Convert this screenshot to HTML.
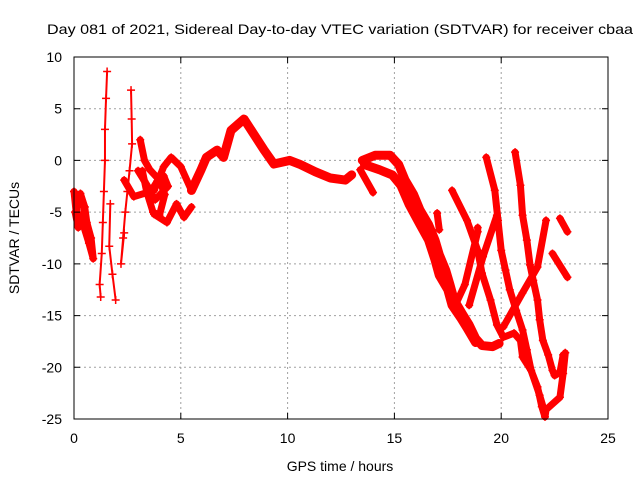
<!DOCTYPE html>
<html><head><meta charset="utf-8"><style>
body{margin:0;background:#fff}
svg{display:block;font-family:"Liberation Sans",sans-serif}
</style></head><body>
<svg id="chart" width="640" height="480" viewBox="0 0 640 480" xmlns="http://www.w3.org/2000/svg">
<rect width="640" height="480" fill="#fff"/>
<g id="grid"></g>
<g id="marks"></g>
<g id="axes"></g>
<text x="340" y="34" font-size="14" text-anchor="middle" textLength="586" lengthAdjust="spacingAndGlyphs">Day 081 of 2021, Sidereal Day-to-day VTEC variation (SDTVAR) for receiver cbaa</text>
<text x="340" y="471" font-size="14" text-anchor="middle">GPS time / hours</text>
<text transform="translate(19,238) rotate(-90)" font-size="14" text-anchor="middle">SDTVAR / TECUs</text>
</svg>
<script>
const xTicks=[0,5,10,15,20,25];
const yTicks=[10,5,0,-5,-10,-15,-20,-25];
const seriesNames=["left-blob","spike-1","spike-1b","spike-2","cluster","early-arc","lower-branch","main-arc","hook","band-1","band-2","trace-a","trace-b","trace-c","trace-d","trace-e","trace-f","trace-g","piece-1","piece-2","cluster-2","left-blob-2"];
const seriesX=[
[0,0.1,0.3,0.5,0.6,0.8,0.9,0.7,0.4,0.2,0.05],
[1.55,1.5,1.45,1.45,1.4,1.35,1.3,1.2,1.25],
[1.7,1.65,1.8,1.95],
[2.67,2.7,2.72,2.6,2.5,2.4,2.3,2.2,2.35],
[3.1,3.3,3.55,4.0,4.25,4.0,3.7,3.4,3.2],
[2.35,2.8,3.75,4.2,4.55,5.0,5.5],
[3.75,4.35,4.8,5.15,5.5],
[5.5,5.95,6.2,6.7,7.0,7.35,7.96,8.4,8.9,9.36,10.1,10.6,11.3,12.0,12.7,13.0],
[13.4,14.0],
[13.5,14.1,14.8,15.2,15.5,15.9,16.2,16.6,16.9,17.1,17.4,17.6,17.8,18.2,18.5,18.8,19.1,19.6,19.9],
[13.6,14.3,14.9,15.3,15.7,16.2,16.6,16.9,17.1,17.5,17.7,18.1,18.4,18.8],
[17.7,18.4,18.9,19.1,19.5,19.8,20.1,20.6,20.9,21.0,21.4,21.7,21.9,22.05,22.1,22.75,22.9,23.0],
[19.3,19.7,19.85,20.0,20.2,20.4,20.7,21.0,21.2,21.4,21.8,22.0],
[20.65,20.9,21.0,21.2,21.35,21.5,21.7,21.8,21.95,22.2,22.4,22.5,22.75,22.9],
[17.85,18.3,18.9,18.9],
[18.5,19.15,19.8],
[20.1,21.0,21.7,22.1],
[17.0,17.1],
[22.75,23.1],
[22.4,23.1],
[3.0,3.3,3.6,3.9,4.2,4.4,3.8,3.4],
[0.1,0.3,0.5,0.4,0.2]
];
const seriesY=[
[-3,-5,-3.5,-4.5,-6,-7.5,-9.5,-8,-6,-6.5,-5],
[8.6,6,3,0,-3,-6,-9,-12,-13.2],
[-4.2,-8.3,-11,-13.5],
[6.8,4,1.6,-1,-3,-5,-7.5,-10,-7],
[2,0,-0.9,-1.9,-3.3,-5.3,-5,-3,-1],
[-1.9,-3.5,-2.9,-0.6,0.3,-0.6,-2.9],
[-5.2,-6,-4.2,-5.5,-4.5],
[-2.9,-0.9,0.3,1,0.3,2.9,4.0,2.6,1,-0.35,0,-0.4,-1.1,-1.7,-1.9,-1.4],
[-0.9,-3.1],
[0,0.5,0.5,-0.4,-1.9,-3.3,-4.8,-6.2,-7.7,-9.1,-10.6,-12,-13.5,-14.9,-15.9,-17.2,-17.9,-18,-17.7],
[-0.4,-0.9,-1.4,-2.4,-4.3,-6.2,-7.7,-9.6,-11.1,-12.5,-14,-15.2,-16.2,-17.6],
[-2.9,-5.8,-8.7,-10.9,-13.5,-15.9,-17.1,-16.7,-17.4,-19,-20.3,-21.9,-23.8,-24.8,-24.1,-22.9,-20.6,-18.6],
[0.3,-2.9,-5.8,-8.7,-10.6,-12.5,-14.5,-16.4,-18.3,-20.3,-22.7,-24.1],
[0.8,-2.4,-5.3,-7.7,-10.1,-11.6,-13.5,-15.4,-17.4,-18.8,-20.3,-20.8,-20.5,-18.8],
[-14,-12,-6.9,-6.5],
[-14,-9.3,-5.3],
[-16.1,-12.8,-10.3,-5.8],
[-5.1,-6.7],
[-5.6,-6.9],
[-9,-11.3],
[-1,-2,-3,-2,-1.5,-2.5,-3.8,-2.5],
[-4,-3.2,-4.5,-5.8,-5.2]
];
const NS="http://www.w3.org/2000/svg";
const L=74,R=608,T=57,B=419;
const sx=v=>L+(v-0)/(25-0)*(R-L);
const sy=v=>T+(10-v)/(10-(-25))*(B-T);
function mk(tag,attrs,parent){const e=document.createElementNS(NS,tag);for(const k in attrs)e.setAttribute(k,attrs[k]);parent.appendChild(e);return e;}
const grid=document.getElementById('grid'),axes=document.getElementById('axes'),marks=document.getElementById('marks');
xTicks.forEach(t=>{
 const x=sx(t);
 if(t>0&&t<25){const g=mk('line',{x1:x,x2:x,y1:T,y2:B,stroke:'#a0a0a0','stroke-dasharray':'2,3'},grid);
 
 }
 const tk=mk('path',{d:`M${x},${B}v-6M${x},${T}v6`,stroke:'#000'},axes);
 
 
 const lb=mk('text',{x:x,y:443,'font-size':14,'text-anchor':'middle'},axes);lb.textContent=t;
 
 
});
yTicks.forEach(t=>{
 const y=sy(t);
 if(t<10&&t>-25){const g=mk('line',{x1:L,x2:R,y1:y,y2:y,stroke:'#a0a0a0','stroke-dasharray':'2,3'},grid);
 
 }
 const tk=mk('path',{d:`M${L},${y}h6M${R},${y}h-6`,stroke:'#000'},axes);
 
 
 const lb=mk('text',{x:62,y:y+5,'font-size':14,'text-anchor':'end'},axes);lb.textContent=t;
 
 
});
const frame=mk('rect',{x:L,y:T,width:R-L,height:B-T,fill:'none',stroke:'#000'},axes);


seriesX.forEach((xs,i)=>{
 const ys=seriesY[i];
 const sparse=i>=1&&i<=3;
 const thick=(i===9||i===10||i===7)?9:7;
 const g=mk('g',{},marks);
 
 
 const pts=xs.map((v,j)=>sx(v)+','+sy(ys[j])).join(' ');
 const pl=mk('polyline',{points:pts,fill:'none',stroke:'#f00','stroke-width':sparse?2:thick,'stroke-linejoin':'round','stroke-linecap':'round'},g);
 
 
 let d='';
 xs.forEach((v,j)=>{const x=sx(v),y=sy(ys[j]);d+=`M${x-4},${y}h8M${x},${y-4}v8`;});
 const m=mk('path',{d:d,stroke:'#f00','stroke-width':1.5},g);
 
 
});
</script>
</body></html>
